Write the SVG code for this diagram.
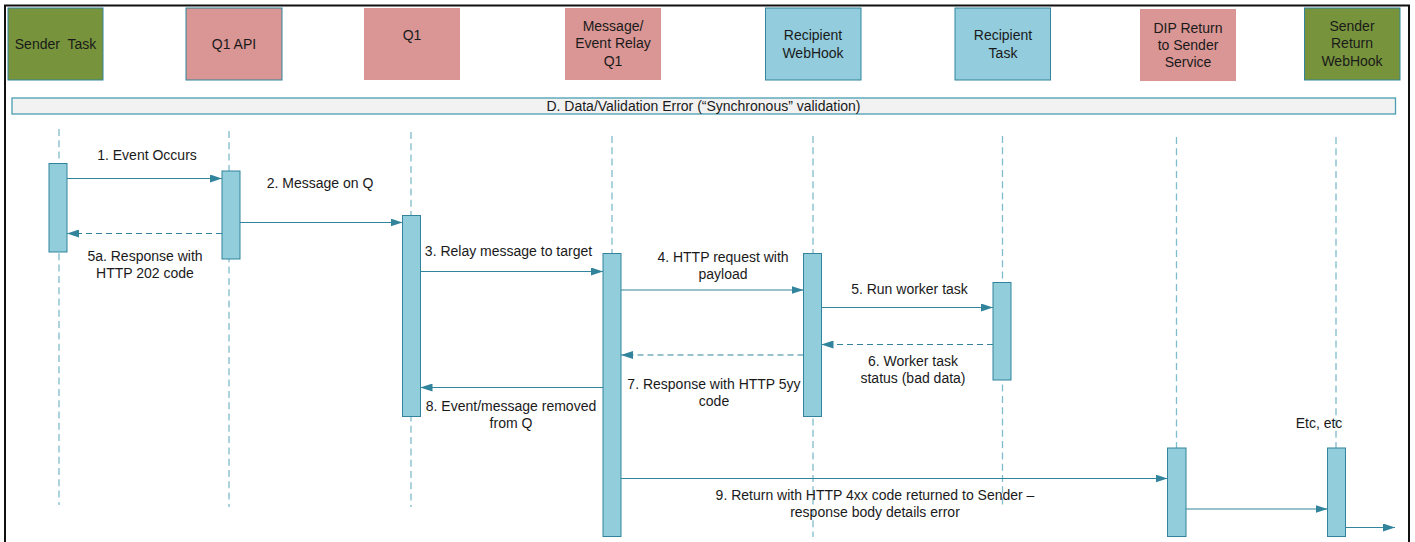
<svg xmlns="http://www.w3.org/2000/svg" width="1415" height="542" viewBox="0 0 1415 542">
  <style>
    text { font-family: "Liberation Sans", Arial, sans-serif; fill: #1a1a1a; }
    .hdr { font-size: 14px; text-anchor: middle; }
    .lbl { font-size: 14px; text-anchor: middle; }
    .pink { fill: #D99694; }
    .olive { fill: #77933C; stroke: #31849B; stroke-width: 1; }
    .blue { fill: #93CDDD; stroke: #31849B; stroke-width: 1; }
    .pinkS { fill: #D99694; stroke: #31849B; stroke-width: 1; }
    .life { stroke: #7FBCCD; stroke-width: 1.3; stroke-dasharray: 7 4.3; fill: none; }
    .act { fill: #92CDDC; stroke: #31849B; stroke-width: 1; }
    .msg { stroke: #31849B; stroke-width: 1.2; fill: none; marker-end: url(#head); }
    .ret { stroke: #31849B; stroke-width: 1.2; fill: none; stroke-dasharray: 6 4; marker-end: url(#head); }
  </style>
  <defs>
    <marker id="head" viewBox="0 0 12 8" refX="12" refY="4" markerWidth="12" markerHeight="8" markerUnits="userSpaceOnUse" orient="auto">
      <path d="M0,0 L12,4 L0,8 Z" fill="#31849B"/>
    </marker>
  </defs>

  <rect width="1415" height="542" fill="#ffffff"/>
  <!-- frame -->
  <path d="M5,542 V5.5 H1409 V542" fill="none" stroke="#111" stroke-width="2"/>

  <!-- participants -->
  <g id="sender-task">
    <rect class="olive" x="8" y="8" width="95" height="72"/>
    <text class="hdr" x="55.5" y="48.5" xml:space="preserve" style="white-space: pre">Sender  Task</text>
  </g>
  <g id="q1-api">
    <rect class="pinkS" x="186" y="8" width="96" height="72"/>
    <text class="hdr" x="234" y="48.5">Q1 API</text>
  </g>
  <g id="q1">
    <rect class="pink" x="364" y="8" width="96" height="72"/>
    <text class="hdr" x="412" y="40">Q1</text>
  </g>
  <g id="relay-q1">
    <rect class="pink" x="565" y="8" width="96" height="72"/>
    <text class="hdr" x="613" y="30.5">Message/</text>
    <text class="hdr" x="613" y="48">Event Relay</text>
    <text class="hdr" x="613" y="65.5">Q1</text>
  </g>
  <g id="recipient-webhook">
    <rect class="blue" x="765.5" y="8" width="95.5" height="72"/>
    <text class="hdr" x="813" y="40">Recipient</text>
    <text class="hdr" x="813" y="57.5">WebHook</text>
  </g>
  <g id="recipient-task">
    <rect class="blue" x="955" y="8" width="95.5" height="72"/>
    <text class="hdr" x="1003" y="40">Recipient</text>
    <text class="hdr" x="1003" y="57.5">Task</text>
  </g>
  <g id="dip-return">
    <rect class="pink" x="1140" y="9" width="96" height="72"/>
    <text class="hdr" x="1188" y="32.5">DIP Return</text>
    <text class="hdr" x="1188" y="50">to Sender</text>
    <text class="hdr" x="1188" y="67">Service</text>
  </g>
  <g id="sender-return-webhook">
    <rect class="olive" x="1304.5" y="8" width="95.5" height="72"/>
    <text class="hdr" x="1352" y="30.5">Sender</text>
    <text class="hdr" x="1352" y="48">Return</text>
    <text class="hdr" x="1352" y="65.5">WebHook</text>
  </g>

  <!-- scenario banner -->
  <g id="banner">
    <rect x="12" y="98" width="1383.5" height="16" fill="#F2F2F2" stroke="#4A9DB3" stroke-width="1.3"/>
    <text class="hdr" x="703.5" y="111">D. Data/Validation Error (“Synchronous” validation)</text>
  </g>

  <!-- lifelines -->
  <g id="lifelines">
    <line class="life" x1="59" y1="129" x2="59" y2="505"/>
    <line class="life" x1="229" y1="131" x2="229" y2="507"/>
    <line class="life" x1="411" y1="132" x2="411" y2="507"/>
    <line class="life" x1="612" y1="136" x2="612" y2="535"/>
    <line class="life" x1="813" y1="136" x2="813" y2="537"/>
    <line class="life" x1="1002.5" y1="136" x2="1002.5" y2="508"/>
    <line class="life" x1="1176.5" y1="137" x2="1176.5" y2="448"/>
    <line class="life" x1="1336" y1="137" x2="1336" y2="448"/>
  </g>

  <!-- activation bars -->
  <g id="activations">
    <rect class="act" x="49" y="163.5" width="18" height="88.5"/>
    <rect class="act" x="222" y="171" width="18" height="88"/>
    <rect class="act" x="402.5" y="215.5" width="18" height="201"/>
    <rect class="act" x="603" y="253.5" width="18" height="283"/>
    <rect class="act" x="803.5" y="253.5" width="18" height="163"/>
    <rect class="act" x="993" y="282.5" width="18" height="97.5"/>
    <rect class="act" x="1167.5" y="448" width="18.5" height="88.5"/>
    <rect class="act" x="1327.5" y="448" width="18" height="88.5"/>
  </g>

  <!-- messages -->
  <g id="connectors">
    <line class="msg" x1="67" y1="178.5" x2="222" y2="178.5"/>
    <line class="msg" x1="240" y1="222.5" x2="402.5" y2="222.5"/>
    <line class="ret" x1="222" y1="233.5" x2="67" y2="233.5"/>
    <line class="msg" x1="420.5" y1="271.5" x2="603" y2="271.5"/>
    <line class="msg" x1="621" y1="290" x2="803.5" y2="290"/>
    <line class="msg" x1="821.5" y1="307.5" x2="993" y2="307.5"/>
    <line class="ret" x1="993" y1="344.5" x2="821.5" y2="344.5"/>
    <line class="ret" x1="803.5" y1="355" x2="621" y2="355"/>
    <line class="msg" x1="603" y1="387.5" x2="420.5" y2="387.5"/>
    <line class="msg" x1="621" y1="478.5" x2="1167.5" y2="478.5"/>
    <line class="msg" x1="1186" y1="509" x2="1327.5" y2="509"/>
    <line class="msg" x1="1345.5" y1="527.5" x2="1395" y2="527.5"/>
  </g>

  <!-- message labels -->
  <g id="labels">
    <text class="lbl" x="147" y="159.5">1. Event Occurs</text>
    <text class="lbl" x="320" y="188">2. Message on Q</text>
    <text class="lbl" x="145" y="260.5">5a. Response with</text>
    <text class="lbl" x="145" y="277.5">HTTP 202 code</text>
    <text class="lbl" x="508.5" y="256">3. Relay message to target</text>
    <text class="lbl" x="723" y="261.5">4. HTTP request with</text>
    <text class="lbl" x="723" y="278.5">payload</text>
    <text class="lbl" x="909.5" y="294">5. Run worker task</text>
    <text class="lbl" x="913" y="365.5">6. Worker task</text>
    <text class="lbl" x="913" y="382.5">status (bad data)</text>
    <text class="lbl" x="714" y="389">7. Response with HTTP 5yy</text>
    <text class="lbl" x="714" y="406">code</text>
    <text class="lbl" x="511" y="411">8. Event/message removed</text>
    <text class="lbl" x="511" y="427.5">from Q</text>
    <text class="lbl" x="875" y="499.5">9. Return with HTTP 4xx code returned to Sender –</text>
    <text class="lbl" x="875" y="516.5">response body details error</text>
    <text class="lbl" x="1319" y="428">Etc, etc</text>
  </g>
</svg>
